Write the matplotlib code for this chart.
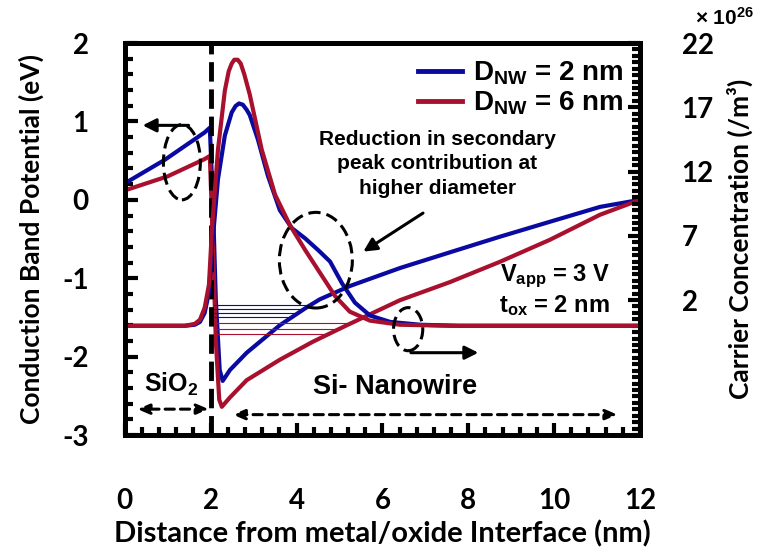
import numpy as np
import matplotlib
matplotlib.use("Agg")
import matplotlib.pyplot as plt
from matplotlib.patches import Ellipse
from matplotlib.lines import Line2D
from matplotlib.ticker import MultipleLocator

# ---------------- data ----------------
# conduction band potential (eV), left axis
blue_pot_x = [0, 0.93, 1.86, 1.98, 2.05, 2.12, 2.21, 2.28, 2.45, 2.84, 3.61, 4.24, 4.54,
              5.24, 6.41, 7.57, 8.74, 9.9, 11.07, 12]
blue_pot_y = [0.21, 0.51, 0.86, 0.92, 0.0, -1.28, -2.17, -2.31, -2.17, -1.95, -1.60, -1.37,
              -1.27, -1.10, -0.87, -0.67, -0.47, -0.28, -0.09, 0.0]
red_pot_x = [0, 1.0, 1.86, 1.98, 2.05, 2.12, 2.2, 2.26, 2.45, 2.84, 3.61, 4.38, 5.17,
             6.41, 7.57, 8.74, 9.9, 11.07, 12]
red_pot_y = [0.12, 0.30, 0.52, 0.56, -0.5, -1.8, -2.55, -2.64, -2.52, -2.30, -2.04, -1.81,
             -1.60, -1.28, -1.05, -0.79, -0.51, -0.19, 0.0]

# carrier concentration (x 1e26 /m^3), right axis
blue_cc_x = [0, 1.4, 1.63, 1.75, 1.86, 1.96, 2.03, 2.17, 2.33, 2.49, 2.58, 2.66, 2.75, 2.84,
             2.91, 3.1, 3.33, 3.61, 3.89, 4.2, 4.5, 4.78, 5.06, 5.36, 5.71, 6.18, 6.88, 7.8, 12]
blue_cc_y = [0, 0, 0.08, 0.3, 1.0, 2.6, 6.0, 11.4, 14.8, 16.6, 17.1, 17.3, 17.2, 16.8,
             16.4, 14.5, 11.7, 9.0, 7.6, 6.8, 5.9, 5.0, 3.3, 1.8, 0.8, 0.3, 0.08, 0, 0]
red_cc_x = [0, 1.4, 1.63, 1.75, 1.86, 1.96, 2.03, 2.17, 2.33, 2.42, 2.49, 2.55, 2.63, 2.70,
            2.78, 2.91, 3.19, 3.5, 3.85, 4.2, 4.55, 4.9, 5.24, 5.71, 6.41, 7.57, 12]
red_cc_y = [0, 0, 0.15, 0.47, 1.4, 3.2, 7.5, 13.7, 18.3, 19.8, 20.4, 20.7, 20.7, 20.4,
            19.6, 18.0, 13.7, 10.2, 7.8, 5.9, 4.1, 2.3, 1.1, 0.4, 0.08, 0, 0]

# quantized levels (eV)
blue_levels = [-1.34, -1.39, -1.44, -1.49]
red_levels = [-1.57, -1.65, -1.71]

blue = "#0A0AA0"
red = "#A8102E"

plt.rcParams["font.family"] = ["Lato", "DejaVu Sans"]
plt.rcParams["font.weight"] = "bold"
plt.rcParams["axes.labelweight"] = "bold"
plt.rcParams["axes.unicode_minus"] = False
plt.rcParams["mathtext.fontset"] = "custom"
plt.rcParams["mathtext.rm"] = "Liberation Sans:bold"
plt.rcParams["mathtext.it"] = "Liberation Sans:bold"
plt.rcParams["mathtext.bf"] = "Liberation Sans:bold"
arial = "Liberation Sans"

fig = plt.figure(figsize=(7.61, 5.56), dpi=100)
ax = fig.add_axes([0.164, 0.2176, 0.677, 0.705])
ax2 = ax.twinx()

ax.plot(blue_pot_x, blue_pot_y, color=blue, lw=3)
ax.plot(red_pot_x, red_pot_y, color=red, lw=3)
ax2.plot(blue_cc_x, blue_cc_y, color=blue, lw=3)
ax2.plot(red_cc_x, red_cc_y, color=red, lw=3)

# energy levels, from just right of the interface to the rising potential
def level_end(px, py, level):
    i = int(np.argmin(py))
    return np.interp(level, py[i:], px[i:])

for lv in blue_levels:
    ax.hlines(lv, 2.08, level_end(blue_pot_x, blue_pot_y, lv), color=blue, lw=0.8)
for lv in red_levels:
    ax.hlines(lv, 2.08, level_end(red_pot_x, red_pot_y, lv), color=red, lw=0.8)

ax.set_xlim(0, 12)
ax.set_ylim(-3, 2)
ax2.set_ylim(-8.5, 22)
ax.set_xticks([0, 2, 4, 6, 8, 10, 12])
ax.set_yticks([-3, -2, -1, 0, 1, 2])
ax2.set_yticks([2, 7, 12, 17, 22])
ax.xaxis.set_minor_locator(MultipleLocator(0.4))
ax.yaxis.set_minor_locator(MultipleLocator(0.2))
ax2.yaxis.set_minor_locator(MultipleLocator(0.5))

ax.tick_params(axis="x", which="major", direction="in", length=9, width=3, pad=38, labelsize=20, top=False)
ax.tick_params(axis="x", which="minor", direction="in", length=6, width=3, top=False)
ax.tick_params(axis="y", which="major", direction="in", length=9, width=3, pad=26, labelsize=20)
ax.tick_params(axis="y", which="minor", direction="in", length=6, width=3)
ax2.tick_params(axis="y", which="major", direction="in", length=9, width=3, pad=30, labelsize=20)
ax2.tick_params(axis="y", which="minor", direction="in", length=6, width=3)
for a in (ax, ax2):
    for s in a.spines.values():
        s.set_linewidth(3.5)

ax.set_xlabel("Distance from metal/oxide Interface (nm)", fontsize=21, labelpad=5)
ax.set_ylabel("Conduction Band Potential (eV)", fontsize=19, labelpad=13)
ax2.set_ylabel("Carrier Concentration (/m³)", fontsize=19, labelpad=9)
fig.text(0.952, 0.968, r"× 10$^{26}$", ha="center", va="center", fontsize=15, family=arial)

# interface line
ax.axvline(2, color="k", lw=3.5, ls=(0, (4, 1.6)), zorder=5)

# annotations (in left-axis units)
T = ax.transData
for cx, cy, w, h in [(1.33, 0.48, 0.86, 0.96), (4.45, -0.77, 1.70, 1.22), (6.6, -1.65, 0.68, 0.55)]:
    ax2.add_patch(Ellipse((cx, cy), w, h, transform=T, fill=False, ec="k", lw=2.2,
                          ls=(0, (4, 2)), zorder=6))

head = dict(arrowstyle="-|>,head_length=0.8,head_width=0.4", color="k", lw=2.2)
ax.annotate("", xy=(0.35, 0.95), xytext=(1.55, 0.95), arrowprops=head, zorder=6)
ax.annotate("", xy=(8.3, -1.95), xytext=(6.6, -1.95), arrowprops=head, zorder=6)
ax.annotate("", xy=(5.5, -0.68), xytext=(7.0, -0.15), arrowprops=head, zorder=6)

dbl = dict(arrowstyle="<|-|>,head_length=0.7,head_width=0.3", color="k", lw=2.2, ls=(0, (3, 2)))
ax.annotate("", xy=(0.23, -2.67), xytext=(2.02, -2.67), arrowprops=dbl, zorder=6)
ax.annotate("", xy=(2.45, -2.74), xytext=(11.54, -2.74), arrowprops=dbl, zorder=6)

ax.text(1.08, -2.36, "SiO$_2$", ha="center", va="center", fontsize=18, family=arial)
ax.text(6.3, -2.39, "Si- Nanowire", ha="center", va="center", fontsize=19.5, family=arial)
ax.text(7.28, 0.46, "Reduction in secondary\npeak contribution at\nhigher diameter",
        ha="center", va="center", fontsize=15, family=arial, linespacing=1.35)
ax.text(11.3, -0.97, "V$_{app}$ = 3 V", ha="right", va="center", fontsize=17, family=arial)
ax.text(11.3, -1.35, "t$_{ox}$ = 2 nm", ha="right", va="center", fontsize=17, family=arial)

handles = [Line2D([], [], color=blue, lw=3.5), Line2D([], [], color=red, lw=3.5)]
ax2.legend(handles, ["D$_{NW}$ = 2 nm", "D$_{NW}$ = 6 nm"], loc="upper right", frameon=False,
           prop=dict(family=arial, weight="bold", size=20), handlelength=1.6,
           handletextpad=0.4, labelspacing=0.1, borderaxespad=0.2)

fig.savefig("out.png", dpi=100)
